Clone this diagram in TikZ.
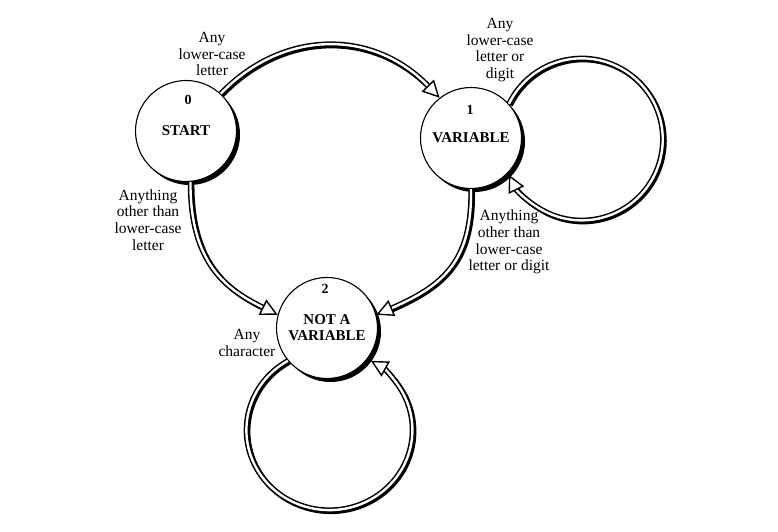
\documentclass[tikz,border=0pt]{standalone}
\usepackage{fontspec}
\setmainfont{Liberation Serif}
\usetikzlibrary{arrows.meta,shadows}
\begin{document}
\begin{tikzpicture}[x=1pt,y=-1pt,
  state/.style={circle, draw, line width=1.1pt, fill=white, minimum size=101pt,
    inner sep=0pt, align=center, font=\bfseries\fontsize{15}{16}\selectfont,
    drop shadow={shadow xshift=3.5pt, shadow yshift=-3.5pt, opacity=1, fill=black}},
  num/.style={font=\bfseries\fontsize{14}{14}\selectfont, inner sep=0pt},
  lbl/.style={align=center, font=\fontsize{15.5}{16.8}\selectfont, inner sep=0pt},
  trans/.style={draw=black, double=white, line width=1.5pt, double distance=2.4pt,
    preaction={draw=black, line width=5.4pt, -, shorten >=14pt,
      transform canvas={shift={(1.3pt,-1.3pt)}}},
    -{Triangle[length=17pt, width=17pt, fill=white, line width=1.4pt]}}
]
\useasboundingbox (0,0) rectangle (778,532);

\node[state] (n0) at (186,131) {START};
\node[num] (n0num) at (188,100) {0};
\node[state] (n1) at (471,138) {VARIABLE};
\node[num] (n1num) at (470,110) {1};
\node[state] (n2) at (327,328) {NOT A\\VARIABLE};
\node[num] (n2num) at (325,289) {2};

\node[lbl] (la) at (212,54) {Any\\lower-case\\letter};
\node[lbl] (lb) at (500,50) {Any\\lower-case\\letter or\\digit};
\node[lbl] (lc) at (148,220) {Anything\\other than\\lower-case\\letter};
\node[lbl] (ld) at (509,242) {Anything\\other than\\lower-case\\letter or digit};
\node[lbl] (le) at (247,343) {Any\\character};

\draw[trans] (n0.47) .. controls (282,30) and (372,28) .. (n1.128);
\draw[trans] (n0.-85) .. controls (190,265) and (228,290) .. (n2.165);
\draw[trans] (n1.-90) .. controls (472,260) and (445,285) .. (n2.15);
\draw[trans] (n1.42) arc[start angle=-154, end angle=154, radius=81];
\draw[trans] (n2.220) arc[start angle=-120, end angle=-420, x radius=83, y radius=80];
\end{tikzpicture}
\end{document}
